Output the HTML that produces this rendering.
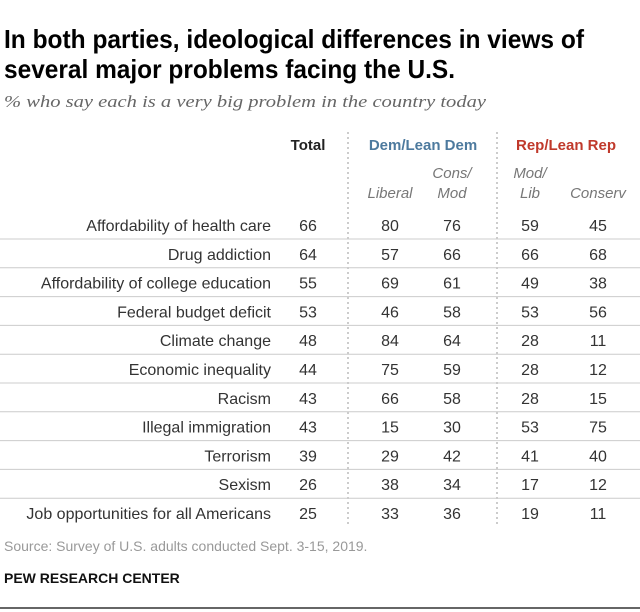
<!DOCTYPE html>
<html><head><meta charset="utf-8"><style>
body{margin:0;background:#fff;}
svg{display:block;font-family:"Liberation Sans",sans-serif;}
</style></head><body>
<svg width="640" height="612" viewBox="0 0 640 612" id="c">
<text x="4" y="48" font-size="26" font-weight="bold" fill="#000" textLength="580" lengthAdjust="spacingAndGlyphs">In both parties, ideological differences in views of</text>
<text x="4" y="78" font-size="26" font-weight="bold" fill="#000" textLength="451" lengthAdjust="spacingAndGlyphs">several major problems facing the U.S.</text>
<text x="4" y="107" font-size="17" font-style="italic" font-family="Liberation Serif, serif" fill="#666" textLength="482" lengthAdjust="spacingAndGlyphs">% who say each is a very big problem in the country today</text>
<text x="308" y="150" font-size="15" font-weight="bold" fill="#222" text-anchor="middle">Total</text>
<text x="423" y="150" font-size="15" font-weight="bold" fill="#4d7a9e" text-anchor="middle">Dem/Lean Dem</text>
<text x="566" y="150" font-size="15" font-weight="bold" fill="#c0392b" text-anchor="middle">Rep/Lean Rep</text>
<g font-size="15" font-style="italic" fill="#777" text-anchor="middle">
<text x="390" y="198">Liberal</text>
<text x="452" y="178">Cons/</text>
<text x="452" y="198">Mod</text>
<text x="530" y="178">Mod/</text>
<text x="530" y="198">Lib</text>
<text x="598" y="198">Conserv</text>
</g>
<line x1="348" y1="132" x2="348" y2="527" stroke="#999" stroke-dasharray="2,3"/>
<line x1="497" y1="132" x2="497" y2="527" stroke="#999" stroke-dasharray="2,3"/>
<g id="rows"></g>
<text x="4" y="551" font-size="14" fill="#999">Source: Survey of U.S. adults conducted Sept. 3-15, 2019.</text>
<text x="4" y="583" font-size="14" font-weight="bold" fill="#111">PEW RESEARCH CENTER</text>
<line x1="0" y1="608" x2="640" y2="608" stroke="#333" stroke-width="1.5"/>
</svg>
<script>
const categories=["Affordability of health care","Drug addiction","Affordability of college education","Federal budget deficit","Climate change","Economic inequality","Racism","Illegal immigration","Terrorism","Sexism","Job opportunities for all Americans"];
const total=[66,64,55,53,48,44,43,43,39,26,25];
const liberal=[80,57,69,46,84,75,66,15,29,38,33];
const consMod=[76,66,61,58,64,59,58,30,42,34,36];
const modLib=[59,66,49,53,28,28,28,53,41,17,19];
const conserv=[45,68,38,56,11,12,15,75,40,12,11];
const ns="http://www.w3.org/2000/svg";
const g=document.getElementById('rows');
const y0=225, step=28.8;
const cols=[[308,total,'total'],[390,liberal,'liberal'],[452,consMod,'cons-mod'],[530,modLib,'mod-lib'],[598,conserv,'conserv']];
function t(x,y,s,anchor,name){const e=document.createElementNS(ns,'text');e.setAttribute('x',x);e.setAttribute('y',y);e.setAttribute('font-size','16');e.setAttribute('fill','#333');e.setAttribute('text-anchor',anchor);e.textContent=s;


g.appendChild(e);}
categories.forEach((c,i)=>{
  const cy=y0+i*step, by=cy+6;
  t(271,by,c,'end','row-label');
  cols.forEach(([x,arr,n])=>t(x,by,String(arr[i]),'middle','value-'+n));
  if(i<categories.length-1){
    const l=document.createElementNS(ns,'line');
    l.setAttribute('x1',0);l.setAttribute('x2',640);l.setAttribute('y1',cy+14);l.setAttribute('y2',cy+14);l.setAttribute('stroke','#ccc');
    
    
    g.appendChild(l);
  }
});
</script>
</body></html>
